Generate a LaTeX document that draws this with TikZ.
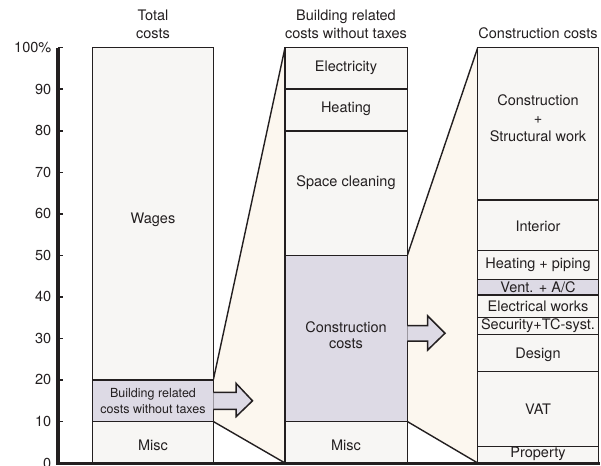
\documentclass[tikz,border=0pt]{standalone}
\usepackage{fontspec}
\setmainfont{TeX Gyre Heros}
\definecolor{lc}{HTML}{231F20}
\definecolor{tc}{HTML}{231F20}
\definecolor{barfill}{HTML}{F7F6F4}
\definecolor{lav}{HTML}{DDDAE5}
\definecolor{cream}{HTML}{FCF7EF}
\begin{document}
\begin{tikzpicture}[x=1pt,y=-1pt,
  font=\fontsize{14.5}{17.5}\selectfont,
  seg/.style={draw=lc, fill=barfill, line width=1.5pt},
  hl/.style={seg, fill=lav},
  lbl/.style={text=tc, inner sep=0pt, align=center},
  funnel/.style={fill=cream},
  edge/.style={draw=lc, line width=1.4pt},
  blockarrow/.style={fill=lav, draw=lc, line width=1.5pt, line join=miter},
  axisline/.style={draw=lc, line cap=butt},
  tick/.style={draw=lc, line width=1.5pt},
  ticklbl/.style={text=tc, inner sep=0pt, anchor=east}]
\useasboundingbox (0,0) rectangle (601,465);

% key coordinates
\coordinate (b1hi) at (213.3,379.9);
\coordinate (b1lo) at (213.3,421.5);
\coordinate (b2tl) at (285,47.7);
\coordinate (b2bl) at (285,463);
\coordinate (b2hi) at (407.3,255.4);
\coordinate (b2lo) at (407.3,421.5);
\coordinate (b3tl) at (477.7,47.7);
\coordinate (b3bl) at (477.7,463);

% funnels
\fill[funnel] (b1hi) -- (b2tl) -- (b2bl) -- (b1lo) -- cycle;
\fill[funnel] (b2hi) -- (b3tl) -- (b3bl) -- (b2lo) -- cycle;
\draw[edge] (b1hi) -- (b2tl);
\draw[edge] (b1lo) -- (b2bl);
\draw[edge] (b2hi) -- (b3tl);
\draw[edge] (b2lo) -- (b3bl);

% bar 1: Total costs
\path[seg] (92.7,47.7) rectangle (213.3,379.9);
\path[hl]  (92.7,379.9) rectangle (213.3,421.5);
\path[seg] (92.7,421.5) rectangle (213.3,463);
\node[lbl] (wages) at (153,220) {Wages};
\node[lbl, font=\fontsize{12.5}{16.3}\selectfont] (brc) at (153,401) {Building related\\costs without taxes};
\node[lbl] (misc1) at (153,445) {Misc};

% bar 2: Building related costs without taxes
\path[seg] (285,47.7) rectangle (407.3,89.2);
\path[seg] (285,89.2) rectangle (407.3,130.8);
\path[seg] (285,130.8) rectangle (407.3,255.4);
\path[hl]  (285,255.4) rectangle (407.3,421.5);
\path[seg] (285,421.5) rectangle (407.3,463);
\node[lbl] (elec) at (346,67.7) {Electricity};
\node[lbl] (heat) at (346,109) {Heating};
\node[lbl] (clean) at (346,183) {Space cleaning};
\node[lbl, font=\fontsize{14.5}{16.6}\selectfont] (cc) at (346,335) {Construction\\costs};
\node[lbl] (misc2) at (346,445) {Misc};

% bar 3: Construction costs
\path[seg] (477.7,47.7) rectangle (598.3,200);
\path[seg] (477.7,200) rectangle (598.3,250.7);
\path[seg] (477.7,250.7) rectangle (598.3,279.3);
\path[hl]  (477.7,279.3) rectangle (598.3,295);
\path[seg] (477.7,295) rectangle (598.3,317.3);
\path[seg] (477.7,317.3) rectangle (598.3,334.3);
\path[seg] (477.7,334.3) rectangle (598.3,371.7);
\path[seg] (477.7,371.7) rectangle (598.3,446.7);
\path[seg] (477.7,446.7) rectangle (598.3,463);
\node[lbl, font=\fontsize{14.5}{18}\selectfont] (cons) at (538,118) {Construction\\+\\Structural work};
\node[lbl] (inter) at (538,226.7) {Interior};
\node[lbl] (hpip) at (538,265) {Heating + piping};
\node[lbl] (vent) at (538,287.3) {Vent. + A/C};
\node[lbl] (ewor) at (538,306) {Electrical works};
\node[lbl] (secu) at (538,326) {Security+TC-syst.};
\node[lbl] (desi) at (538,354.3) {Design};
\node[lbl] (vat) at (538,409) {VAT};
\node[lbl] (prop) at (538,453.5) {Property};

% block arrows
\filldraw[blockarrow] (213.3,392.3) -- (236,392.3) -- (236,383.3) -- (252.5,400.8)
  -- (236,416.7) -- (236,409.3) -- (213.3,409.3);
\filldraw[blockarrow] (407.3,325.7) -- (427.7,325.7) -- (427.7,316) -- (445,333.2)
  -- (427.7,350) -- (427.7,341) -- (407.3,341);

% titles
\node[lbl, font=\fontsize{14.5}{17.6}\selectfont, anchor=center] (t1) at (153,24.5) {Total\\costs};
\node[lbl, font=\fontsize{14.5}{17.6}\selectfont, anchor=center] (t2) at (346,24.5) {Building related\\costs without taxes};
\node[lbl] (t3) at (538,33.3) {Construction costs};

% axis
\draw[axisline, line width=4pt] (58,47.7) -- (58,463);
\draw[axisline, line width=3pt] (56,463) -- (600,463);
\foreach \p/\l in {100/100\%,90/90,80/80,70/70,60/60,50/50,40/40,30/30,20/20,10/10,0/0}{
  \pgfmathsetmacro{\yy}{463-4.153*\p}
  \draw[tick] (58,\yy) -- (62.5,\yy);
  \node[ticklbl] (tl\p) at (51.5,\yy) {\l};
}
\end{tikzpicture}
\end{document}
